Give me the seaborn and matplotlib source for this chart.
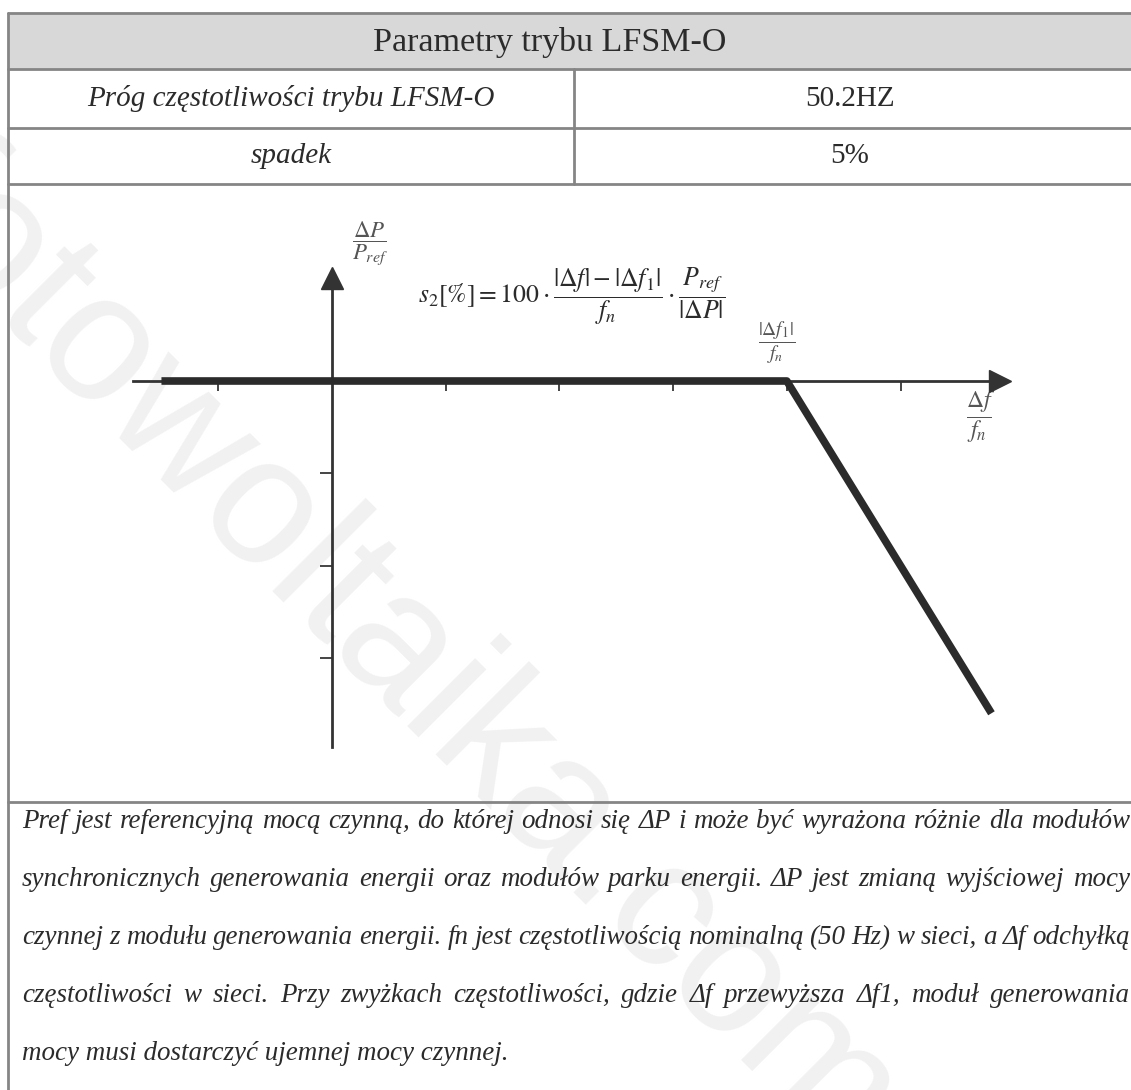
import matplotlib
matplotlib.use("Agg")
import matplotlib.pyplot as plt
import seaborn as sns

# --- dane tabeli ---
header_title = "Parametry trybu LFSM-O"
param_names = ["Próg częstotliwości trybu LFSM-O", "spadek"]
param_values = ["50.2HZ", "5%"]

# --- charakterystyka LFSM-O (w jednostkach podziałki osi) ---
df_fn = [-1.5, 4.0, 5.8]      # Δf / fn
dp_pref = [0.0, 0.0, -3.6]    # ΔP / Pref
x_ticks = [-1, 1, 2, 3, 4, 5]
y_ticks = [-1, -2, -3]

formula = r"$s_2[\%]=100\cdot\dfrac{|\Delta f|-|\Delta f_1|}{f_n}\cdot\dfrac{P_{ref}}{|\Delta P|}$"
label_y = r"$\dfrac{\Delta P}{P_{ref}}$"
label_x = r"$\dfrac{\Delta f}{f_n}$"
label_knee = r"$\dfrac{|\Delta f_1|}{f_n}$"

body_lines = [
    "Pref jest referencyjną mocą czynną, do której odnosi się ΔP i może być wyrażona różnie dla modułów",
    "synchronicznych generowania energii oraz modułów parku energii. ΔP jest zmianą wyjściowej mocy",
    "czynnej z modułu generowania energii. fn jest częstotliwością nominalną (50 Hz) w sieci, a Δf odchyłką",
    "częstotliwości w sieci. Przy zwyżkach częstotliwości, gdzie Δf przewyższa Δf1, moduł generowania",
    "mocy musi dostarczyć ujemnej mocy czynnej.",
]

W, H = 1131, 1090
GRID = "#858585"
INK = "#2b2b2b"

sns.set_style("white")
plt.rcParams["font.family"] = ["Liberation Serif", "DejaVu Serif"]
plt.rcParams["mathtext.fontset"] = "stix"

fig = plt.figure(figsize=(W / 100, H / 100), dpi=100)

# tło w pikselach: tabela, teksty
bg = fig.add_axes([0, 0, 1, 1])
bg.set_xlim(0, W)
bg.set_ylim(H, 0)
bg.axis("off")

# znak wodny
bg.text(463, 718, "fotowoltaika.com.pl", fontsize=130, color="#f1f1f1",
        rotation=-45, rotation_mode="anchor", ha="center", va="center",
        family=["Liberation Sans"], zorder=0, clip_on=True)

# tabela
bg.add_patch(plt.Rectangle((8, 13), W - 8, 56, color="#d8d8d8", zorder=1))
for y in [13, 69, 128, 184, 802]:
    bg.plot([8, W], [y, y], color=GRID, lw=2, zorder=2)
bg.plot([8, 8], [13, H], color=GRID, lw=2, zorder=2)
bg.plot([574, 574], [69, 184], color=GRID, lw=2, zorder=2)

bg.text(550, 42, header_title, fontsize=24.5, ha="center", va="center", color=INK)
for i, (name, val) in enumerate(zip(param_names, param_values)):
    yc = 99 + i * 57
    bg.text(291, yc, name, fontsize=21, style="italic", ha="center", va="center", color=INK)
    bg.text(850, yc, val, fontsize=21, ha="center", va="center", color=INK)

# wykres
ox, oy, ux, uy = 332, 381, 113.7, 92.3
ax = fig.add_axes([8 / W, 1 - 802 / H, (W - 8) / W, (802 - 185) / H])
ax.patch.set_alpha(0)
ax.set_xlim((8 - ox) / ux, (W - ox) / ux)
ax.set_ylim((oy - 802) / uy, (oy - 185) / uy)

sns.lineplot(x=df_fn, y=dp_pref, ax=ax, color=INK, lw=5.5, sort=False,
             solid_capstyle="butt", zorder=5)

for s in ["top", "right"]:
    ax.spines[s].set_visible(False)
ax.spines["left"].set_position(("data", 0))
ax.spines["bottom"].set_position(("data", 0))
ax.spines["left"].set_bounds(-3.97, 1.1)
ax.spines["bottom"].set_bounds((133 - ox) / ux, 5.85)
for s in ["left", "bottom"]:
    ax.spines[s].set_linewidth(2)
    ax.spines[s].set_color("#333333")
ax.set_xticks(x_ticks)
ax.set_yticks(y_ticks)
ax.tick_params(axis="x", bottom=True, direction="out", length=7, width=1.4,
               color="#444444", labelbottom=False)
ax.tick_params(axis="y", left=True, direction="out", length=9, width=1.4,
               color="#444444", labelleft=False)
ax.set_xlabel("")
ax.set_ylabel("")

# groty strzałek osi
ax.plot([5.875], [0], marker=">", ms=16, color="#333333", clip_on=False)
ax.plot([0], [1.116], marker="^", ms=16, color="#333333", clip_on=False)

bg.text(572, 296, formula, fontsize=18.5, ha="center", va="center", color=INK, zorder=6)
bg.text(370, 243, label_y, fontsize=16.5, ha="center", va="center", color="#555555", zorder=6)
bg.text(777, 343, label_knee, fontsize=14, ha="center", va="center", color="#555555", zorder=6)
bg.text(981, 417, label_x, fontsize=17, ha="center", va="center", color="#555555", zorder=6)

# opis pod wykresem, wyjustowany
fig.canvas.draw()
rend = fig.canvas.get_renderer()


def text_width(s, fs):
    t = bg.text(0, 0, s, fontsize=fs, style="italic")
    w = t.get_window_extent(renderer=rend).width
    t.remove()
    return w


left, right = 22, 1130
fs = 10 * (right - left - 10) / text_width(body_lines[0], 10)
for i, line in enumerate(body_lines):
    y = 822 + i * 57.8
    if i == len(body_lines) - 1:
        bg.text(left, y, line, fontsize=fs, style="italic", ha="left", va="center", color=INK)
        continue
    words = line.split()
    widths = [text_width(w, fs) for w in words]
    gap = (right - left - sum(widths)) / (len(words) - 1)
    x = left
    for w, wd in zip(words, widths):
        bg.text(x, y, w, fontsize=fs, style="italic", ha="left", va="center", color=INK)
        x += wd + gap

fig.savefig("out.png", dpi=100)
